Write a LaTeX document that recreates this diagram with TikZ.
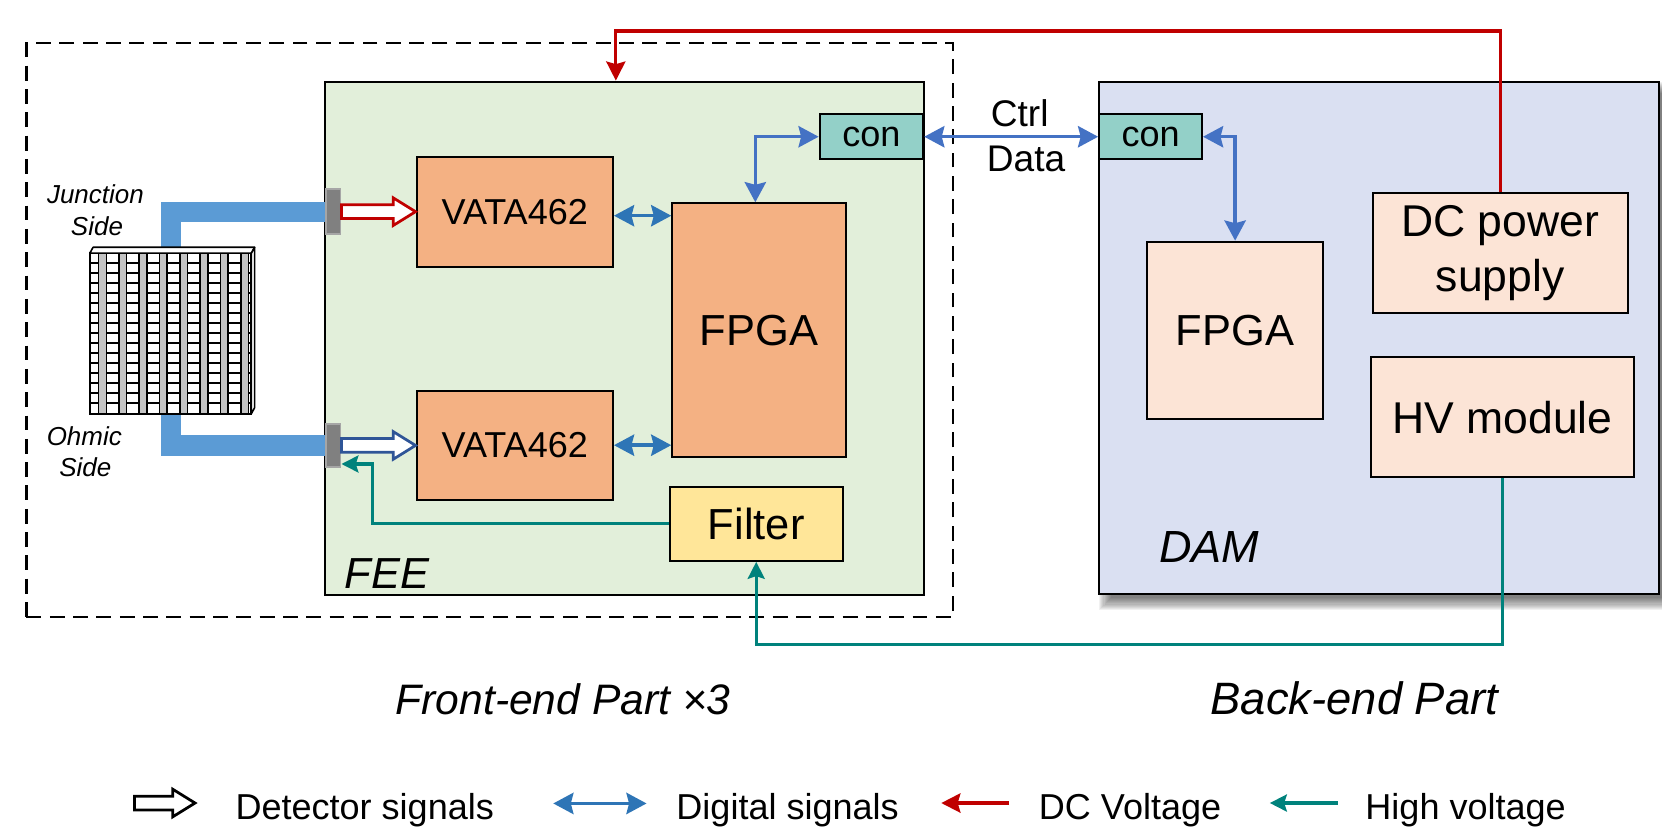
\documentclass[tikz,border=0pt]{standalone}
\usepackage{fontspec}
\setmainfont{Liberation Sans}
\usetikzlibrary{arrows.meta,calc,backgrounds}
\definecolor{feeg}{HTML}{E2EFDA}
\definecolor{damb}{HTML}{DAE0F2}
\definecolor{orng}{HTML}{F4B183}
\definecolor{peach}{HTML}{FCE4D6}
\definecolor{conc}{HTML}{93D0C8}
\definecolor{filt}{HTML}{FFE699}
\definecolor{digb}{HTML}{2E75B6}
\definecolor{conb}{HTML}{4472C4}
\definecolor{dcred}{HTML}{C00000}
\definecolor{hvteal}{HTML}{00827C}
\definecolor{barb}{HTML}{5B9BD5}
\definecolor{hblue}{HTML}{2F5597}
\definecolor{cgray}{HTML}{808080}
\definecolor{cgrayb}{HTML}{A6A6A6}
\definecolor{detg}{HTML}{C4C4C4}
\newcommand{\hollowarr}[3]{%
  \draw[#1,line join=miter] ($(#2)+(0,-6.5)$) -- ($(#3)+(-21,-6.5)$) -- ($(#3)+(-21,-13)$) -- (#3)
    -- ($(#3)+(-21,13)$) -- ($(#3)+(-21,6.5)$) -- ($(#2)+(0,6.5)$) -- cycle;}
\begin{document}
\begin{tikzpicture}[x=1pt,y=-1pt,
  blk/.style={draw=black,line width=1.9pt,inner sep=0pt,rectangle,align=center},
  txs/.style={font=\fontsize{34}{41}\selectfont},
  txb/.style={font=\fontsize{41}{50}\selectfont},
  txc/.style={font=\fontsize{42}{52}\selectfont},
  dig/.style={draw=digb,line width=3.2pt,{Stealth[length=19pt,width=20pt,inset=2.5pt]}-{Stealth[length=19pt,width=20pt,inset=2.5pt]}},
  digc/.style={dig,draw=conb},
  dcv/.style={draw=dcred,line width=3pt,-{Stealth[length=18pt,width=18pt,inset=2.5pt]}},
  hvv/.style={draw=hvteal,line width=3pt,-{Stealth[length=16pt,width=16pt,inset=2.5pt]}},
  bar/.style={draw=barb,line width=19pt,line join=miter},
  conn/.style={draw=cgrayb,fill=cgray,line width=1.8pt,inner sep=0pt,minimum width=14pt},
  dashbox/.style={draw=black,line width=1.9pt,dash pattern=on 14pt off 8pt,inner sep=0pt},
  sidetxt/.style={font=\fontsize{24.5}{29}\selectfont\itshape,inner sep=0pt},
  legtxt/.style={font=\fontsize{34}{41}\selectfont,anchor=base west,inner sep=0pt}
  ]
\useasboundingbox (0,0) rectangle (1568,781.2);

% frames
\node[dashbox,minimum width=874pt,minimum height=541pt] (front) at (462,311.5) {};
\node[blk,fill=feeg,minimum width=565.5pt,minimum height=484pt] (fee) at (589.25,319) {};
\node[blk,fill=damb,minimum width=528pt,minimum height=483.4pt] (dam) at (1301,318.7) {};
\begin{scope}[on background layer]
\foreach \e in {1,...,12}{
  \fill[black,opacity=0.055] ($(dam.north west)+(13-\e,13-\e)$) rectangle ($(dam.south east)+(\e+1,\e+2)$);}
\end{scope}

% front-end blocks
\node[blk,fill=orng,txs,minimum width=185.3pt,minimum height=103pt] (va1) at (485.65,200) {VATA462};
\node[blk,fill=orng,txs,minimum width=185.3pt,minimum height=103pt] (va2) at (485.65,420) {VATA462};
\node[blk,fill=orng,txb,minimum width=163.5pt,minimum height=239.6pt] (fpga1) at (716,311.6) {FPGA};
\node[blk,fill=conc,txs,minimum width=97.7pt,minimum height=42pt] (con1) at (822.15,129) {con};
\node[blk,fill=filt,txb,minimum width=163.5pt,minimum height=70pt] (filter) at (713.45,494.1) {Filter};
\node[conn,minimum height=42pt] (jc) at (314.25,199.7) {};
\node[conn,minimum height=40.5pt] (oc) at (314.25,420.25) {};

% back-end blocks
\node[blk,fill=conc,txs,minimum width=97pt,minimum height=42pt] (con2) at (1085.5,129) {con};
\node[blk,fill=peach,txb,minimum width=166.5pt,minimum height=167pt] (fpga2) at (1165.25,311.5) {FPGA};
\node[blk,fill=peach,txc,minimum width=240.2pt,minimum height=113pt] (dc) at (1415.4,238.5) {DC power\\supply};
\node[blk,fill=peach,txc,minimum width=248pt,minimum height=113pt] (hv) at (1417.45,393.5) {HV module};

% labels
\node[anchor=base west,inner sep=0pt,font=\fontsize{41}{49}\selectfont\itshape] (feel) at (325,555) {FEE};
\node[anchor=base west,inner sep=0pt,font=\fontsize{42.5}{51}\selectfont\itshape] (daml) at (1093.5,531) {DAM};
\node[anchor=base,inner sep=0pt,font=\fontsize{35}{42}\selectfont] (ctrl) at (962,119.5) {Ctrl};
\node[anchor=base,inner sep=0pt,font=\fontsize{35}{42}\selectfont] (data) at (968,162) {Data};
\node[anchor=base west,inner sep=0pt,font=\fontsize{40.2}{48}\selectfont\itshape] (fpart) at (373,674.5) {Front-end Part ×3};
\node[anchor=base west,inner sep=0pt,font=\fontsize{42.8}{51}\selectfont\itshape] (bpart) at (1142,674.5) {Back-end Part};
\node[sidetxt,anchor=base] (junc1) at (90,191.8) {Junction};
\node[sidetxt,anchor=base] (junc2) at (91.5,222.6) {Side};
\node[sidetxt,anchor=base] (ohm1) at (79.5,420) {Ohmic};
\node[sidetxt,anchor=base] (ohm2) at (80.5,449.7) {Side};

% detector
\node[fill=white,inner sep=0pt,minimum width=152pt,minimum height=151pt] (det) at (161,314.5) {};
\draw[bar] (det.north) |- (jc.west);
\draw[bar] (det.south) |- (oc.west);
\fill[white] (det.north west) rectangle (det.south east);
\foreach \j in {1,...,15}
  \draw[line width=1.5pt] ($(det.north west)+(0,\j*9.44)$) -- ($(det.north east)+(0,\j*9.44)$);
\foreach \i in {0,...,7}
  \draw[line width=1.5pt,fill=detg] ($(det.north west)+(8.3+\i*19.15,0)$) rectangle ($(det.south west)+(15.5+\i*19.15,0)$);
\draw[line width=1.8pt] (det.north west) rectangle (det.south east);
\draw[line width=1.5pt,fill=white,line join=round] (det.north west) -- ++(3,-5.5) -- ($(det.north east)+(3,-5.5)$) -- (det.north east) -- cycle;
\draw[line width=1.5pt,fill=white,line join=round] (det.north east) -- ++(3,-5.5) -- ($(det.south east)+(3,-5.5)$) -- (det.south east) -- cycle;

% detector signals
\coordinate (ha1) at (jc.east);
\coordinate (hb1) at (va1.west |- jc.east);
\coordinate (ha2) at (oc.east);
\coordinate (hb2) at (va2.west |- oc.east);
\hollowarr{draw=dcred,fill=white,line width=2.6pt}{ha1}{hb1}
\hollowarr{draw=hblue,fill=white,line width=2.6pt}{ha2}{hb2}

% digital signals
\coordinate (d1a) at ($(va1.east)+(0,3.5)$);
\coordinate (d1b) at ($(fpga1.west |- va1.east)+(0,3.5)$);
\draw[dig] (d1a) -- (d1b);
\draw[dig] (va2.east) -- (fpga1.west |- va2.east);
\coordinate (f1top) at ($(fpga1.north)+(-3.4,0)$);
\draw[digc] (con1.west) -| (f1top);
\draw[digc] (con1.east) -- (con2.west);
\draw[digc] (con2.east) -| (fpga2.north);

% DC voltage
\coordinate (rc) at (581,29.3);
\draw[dcv] (dc.north) |- (rc) -- (rc |- fee.north);

% high voltage
\draw[hvv] (hv.south) -- ++(0,157) -| (filter.south);
\coordinate (tin) at ($(oc.east)+(0,17.5)$);
\coordinate (tmid) at ($(tin)+(29.6,0)$);
\draw[hvv] (filter.west) -| (tmid) -- (tin);

% legend
\coordinate (lg1a) at (127,757.6);
\coordinate (lg1b) at (184,757.6);
\hollowarr{draw=black,fill=white,line width=2.6pt}{lg1a}{lg1b}
\node[legtxt] (lt1) at (222,773.6) {Detector signals};
\coordinate (lg2a) at (522,758);
\coordinate (lg2b) at (610,758);
\draw[dig] (lg2a) -- (lg2b);
\node[legtxt] (lt2) at (638,773.6) {Digital signals};
\coordinate (lg3a) at (952,757.6);
\coordinate (lg3b) at (888,757.6);
\draw[dcv,line width=3.6pt] (lg3a) -- (lg3b);
\node[legtxt] (lt3) at (980,773.6) {DC Voltage};
\coordinate (lg4a) at (1262,757.6);
\coordinate (lg4b) at (1198,757.6);
\draw[hvv,line width=3.6pt] (lg4a) -- (lg4b);
\node[legtxt] (lt4) at (1288,773.6) {High voltage};
\end{tikzpicture}
\end{document}
